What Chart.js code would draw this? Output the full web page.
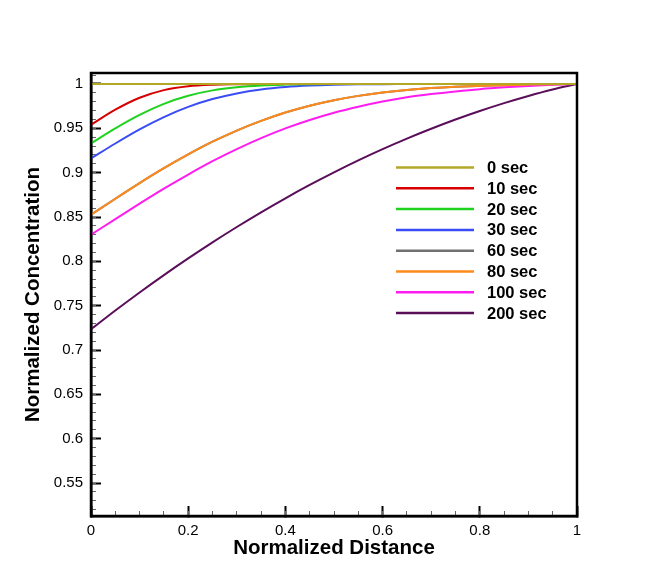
<!DOCTYPE html>
<html>
<head>
<meta charset="utf-8">
<script src="https://cdn.jsdelivr.net/npm/chart.js@4.4.1/dist/chart.umd.min.js"></script>
<style>
  html, body { margin: 0; padding: 0; background: #fff; }
  #wrap { width: 653px; height: 580px; }
</style>
</head>
<body>
<div id="wrap"><canvas id="myChart"></canvas></div>
<script>
// normalized distance along the sample
const distance = [0, 0.05, 0.1, 0.15, 0.2, 0.25, 0.3, 0.35, 0.4, 0.45, 0.5, 0.55, 0.6, 0.65, 0.7, 0.75, 0.8, 0.85, 0.9, 0.95, 1];

// normalized concentration for each time
const sec0 = [1, 1, 1, 1, 1, 1, 1, 1, 1, 1, 1, 1, 1, 1, 1, 1, 1, 1, 1, 1, 1];
const sec10 = [0.954, 0.9710, 0.9845, 0.9931, 0.9975, 0.99925, 0.9998, 1, 1, 1, 1, 1, 1, 1, 1, 1, 1, 1, 1, 1, 1];
const sec20 = [0.933, 0.9499, 0.9651, 0.9776, 0.9867, 0.9928, 0.9964, 0.9984, 0.9993, 0.9997, 0.9999, 1, 1, 1, 1, 1, 1, 1, 1, 1, 1];
const sec30 = [0.916, 0.9329, 0.9488, 0.9627, 0.9742, 0.9830, 0.9894, 0.9938, 0.99655, 0.9982, 0.9991, 0.9996, 0.9998, 0.9999, 1, 1, 1, 1, 1, 1, 1];
const sec60 = [0.8526, 0.8706, 0.8882, 0.9050, 0.9206, 0.9349, 0.9475, 0.9584, 0.9678, 0.9755, 0.9817, 0.9866, 0.9904, 0.9933, 0.9954, 0.9969, 0.9979, 0.9987, 0.9993, 0.9998, 1];
const sec80 = [0.8526, 0.8706, 0.8882, 0.9050, 0.9206, 0.9349, 0.9475, 0.9584, 0.9678, 0.9755, 0.9817, 0.9866, 0.9904, 0.9933, 0.9954, 0.9969, 0.9979, 0.9987, 0.9993, 0.9998, 1];
const sec100 = [0.830, 0.8477, 0.8651, 0.8820, 0.8979, 0.9129, 0.9265, 0.9389, 0.9499, 0.9594, 0.9676, 0.9744, 0.9802, 0.9850, 0.9886, 0.9916, 0.9942, 0.9962, 0.9978, 0.9991, 1];
const sec200 = [0.7233, 0.7445, 0.7649, 0.7845, 0.8033, 0.8214, 0.8387, 0.8553, 0.8711, 0.8861, 0.9003, 0.9138, 0.9265, 0.9384, 0.9495, 0.9599, 0.9695, 0.9784, 0.9865, 0.9938, 1];

const seriesLabels = ['0 sec', '10 sec', '20 sec', '30 sec', '60 sec', '80 sec', '100 sec', '200 sec'];

// tick labels
const xTicks = [0, 0.2, 0.4, 0.6, 0.8, 1];
const xTickLabels = ['0', '0.2', '0.4', '0.6', '0.8', '1'];
const yTicks = [0.55, 0.6, 0.65, 0.7, 0.75, 0.8, 0.85, 0.9, 0.95, 1];
const yTickLabels = ['0.55', '0.6', '0.65', '0.7', '0.75', '0.8', '0.85', '0.9', '0.95', '1'];

let xMinorTicks = [];
for (let i = 0; i <= 20; i++) xMinorTicks.push(i / 20);
let yMinorTicks = [];
for (let i = 52; i <= 101; i++) yMinorTicks.push(i / 100);

const FONT = "'Liberation Sans', Arial, Helvetica, sans-serif";

function makeLine(label, values, color, order) {
    return {
        label: label,
        data: values.map((v, i) => ({ x: distance[i], y: v })),
        borderColor: color,
        backgroundColor: color,
        borderWidth: 2,
        pointRadius: 0,
        fill: false,
        cubicInterpolationMode: 'monotone',
        order: order
    };
}

// legend drawn inside the plot
const insideLegend = {
    id: 'insideLegend',
    afterDatasetsDraw(chart) {
        const ctx = chart.ctx;
        const area = chart.chartArea;
        ctx.save();
        ctx.font = "bold 16.5px " + FONT;
        ctx.textBaseline = 'middle';
        ctx.textAlign = 'left';
        chart.data.datasets.forEach((ds, i) => {
            const y = area.top + 94.5 + i * 20.8;
            ctx.strokeStyle = ds.borderColor;
            ctx.lineWidth = 2.5;
            ctx.beginPath();
            ctx.moveTo(area.left + 305, y);
            ctx.lineTo(area.left + 383, y);
            ctx.stroke();
            ctx.fillStyle = '#000';
            ctx.fillText(ds.label, area.left + 396, y + 1);
        });
        ctx.restore();
    }
};

const frame = {
    id: 'frame',
    afterDraw(chart) {
        const ctx = chart.ctx;
        const a = chart.chartArea;
        ctx.save();
        ctx.strokeStyle = '#000';
        ctx.lineWidth = 2.5;
        ctx.strokeRect(a.left, a.top, a.right - a.left, a.bottom - a.top);
        ctx.restore();
    }
};

const chart1 = document.getElementById('myChart');

new Chart(chart1, {
    type: 'line',
    data: {
        datasets: [
            makeLine(seriesLabels[0], sec0, '#b3a826', 0),
            makeLine(seriesLabels[1], sec10, '#d60000', 0),
            makeLine(seriesLabels[2], sec20, '#1ed21e', 0),
            makeLine(seriesLabels[3], sec30, '#3a4cf5', 0),
            makeLine(seriesLabels[4], sec60, '#707070', 1),
            makeLine(seriesLabels[5], sec80, '#ff8a1a', 0),
            makeLine(seriesLabels[6], sec100, '#ff1cf0', 0),
            makeLine(seriesLabels[7], sec200, '#5a0e5a', 0)
        ]
    },
    options: {
        responsive: true,
        maintainAspectRatio: false,
        animation: false,
        layout: {
            padding: { top: 73, right: 76, left: 0, bottom: 0 }
        },
        plugins: {
            legend: { display: false },
            tooltip: { enabled: false }
        },
        scales: {
            x: {
                type: 'linear',
                position: 'bottom',
                min: 0,
                max: 1,
                weight: 1,
                afterBuildTicks: (s) => { s.ticks = xTicks.map(v => ({ value: v })); },
                afterFit: (s) => { s.height = 64; },
                ticks: {
                    autoSkip: false,
                    maxRotation: 0,
                    padding: 16,
                    color: '#000',
                    font: { family: FONT, size: 15 },
                    callback: (value, index) => xTickLabels[index]
                },
                grid: { drawOnChartArea: false, drawTicks: true, tickLength: -10, tickWidth: 2, tickColor: '#000' },
                border: { display: true, color: '#000', width: 2.5 },
                title: {
                    display: true,
                    text: 'Normalized Distance',
                    color: '#000',
                    font: { family: FONT, size: 20.5, weight: 'bold' },
                    padding: { top: 0, bottom: 19.7 }
                }
            },
            xMinor: {
                type: 'linear',
                position: 'bottom',
                min: 0,
                max: 1,
                weight: 0,
                afterBuildTicks: (s) => { s.ticks = xMinorTicks.map(v => ({ value: v })); },
                afterFit: (s) => { s.height = 0; },
                ticks: { display: false },
                grid: { drawOnChartArea: false, drawTicks: true, tickLength: -5, tickWidth: 1, tickColor: '#666' },
                border: { display: false }
            },
            y: {
                type: 'linear',
                position: 'left',
                min: 0.5128,
                max: 1.0124,
                weight: 1,
                afterBuildTicks: (s) => { s.ticks = yTicks.map(v => ({ value: v })); },
                afterFit: (s) => { s.width = 91; },
                ticks: {
                    autoSkip: false,
                    padding: 18,
                    color: '#000',
                    font: { family: FONT, size: 15 },
                    callback: (value, index) => yTickLabels[index]
                },
                grid: { drawOnChartArea: false, drawTicks: true, tickLength: -10, tickWidth: 2, tickColor: '#000' },
                border: { display: true, color: '#000', width: 2.5 },
                title: {
                    display: true,
                    text: 'Normalized Concentration',
                    color: '#000',
                    font: { family: FONT, size: 20.5, weight: 'bold' },
                    padding: { top: 20.7, bottom: 0 }
                }
            },
            yMinor: {
                type: 'linear',
                position: 'left',
                min: 0.5128,
                max: 1.0124,
                weight: 0,
                afterBuildTicks: (s) => { s.ticks = yMinorTicks.map(v => ({ value: v })); },
                afterFit: (s) => { s.width = 0; },
                ticks: { display: false },
                grid: { drawOnChartArea: false, drawTicks: true, tickLength: -5, tickWidth: 1, tickColor: '#666' },
                border: { display: false }
            }
        }
    },
    plugins: [insideLegend, frame]
});
</script>
</body>
</html>
